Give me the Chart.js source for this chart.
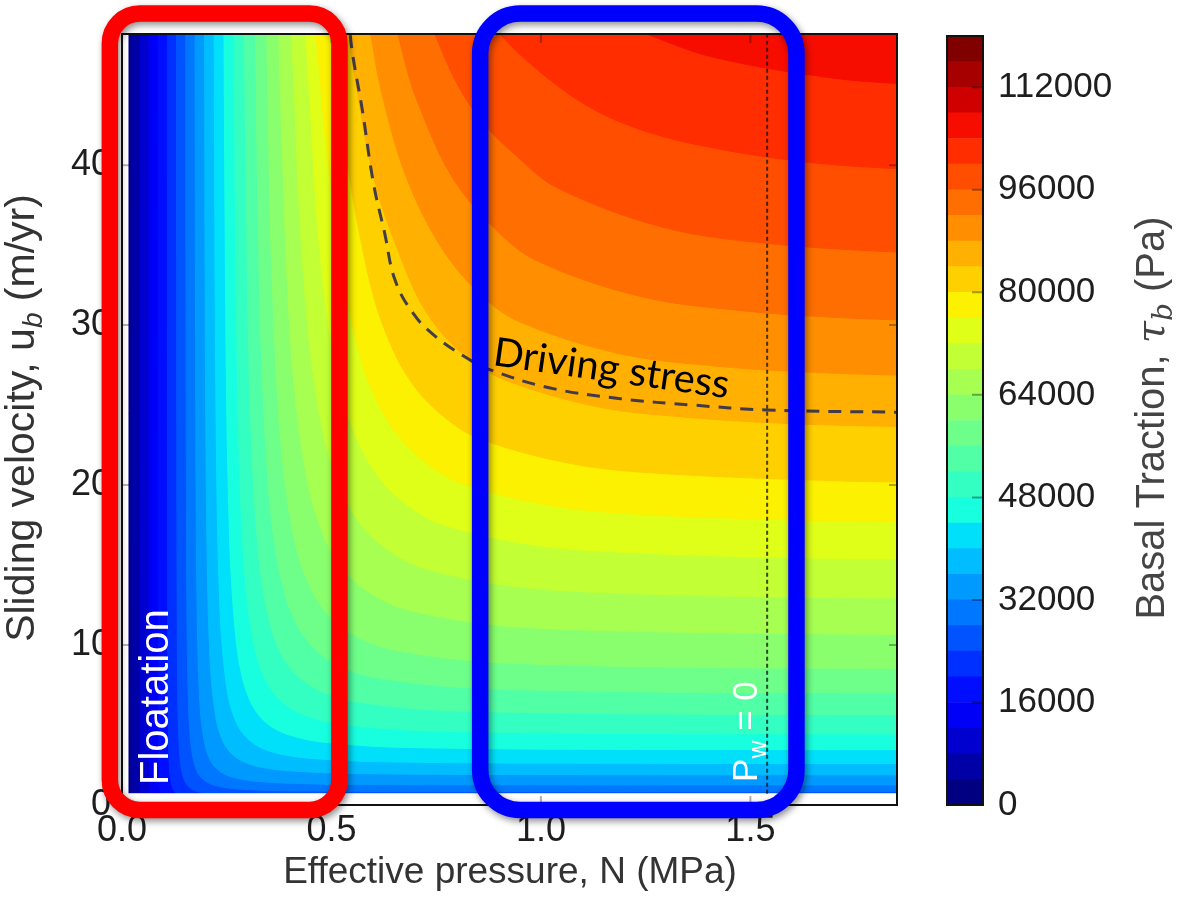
<!DOCTYPE html>
<html>
<head>
<meta charset="utf-8">
<script src="https://cdn.jsdelivr.net/npm/chart.js@4.4.1/dist/chart.umd.min.js"></script>
<style>
  html, body { margin: 0; padding: 0; background: #fff; }
  #wrap { position: relative; width: 1199px; height: 904px; overflow: hidden; }
  #main { position: absolute; left: 0; top: 0; }
  #bar { position: absolute; left: 900px; top: 0; }
</style>
</head>
<body>
<div id="wrap">
  <canvas id="main" width="1199" height="904"></canvas>
  <canvas id="bar" width="299" height="904"></canvas>
</div>
<script>
// ---- axes ----
const N_MAX = 1.85;          // effective pressure, MPa
const U_MAX = 48.2;          // sliding velocity, m/yr
const N_DATA_MIN = 0.0143;   // no data left of this
const U_DATA_MIN = 0.7;      // no data below this
const xTicks = [0, 0.5, 1.0, 1.5];
const yTicks = [0, 10, 20, 30, 40];

// ---- contour lines of basal traction, [N (MPa), u (m/yr)] ----
// each runs from the top edge down and out to the right edge (or below the bottom)
const c04 = [[0.0216,50],[0.0216,49.5],[0.0216,10],[0.0217,0.6],[0.0217,0.5]];
const c08 = [[0.0432,50],[0.0432,49.5],[0.0433,5],[0.0435,1.3],[0.0437,0.66],[0.0439,0.5],[0.0440,0.45]];
const c12 = [[0.0649,50],[0.0649,49.5],[0.0650,7.37],[0.0652,4.44],[0.0655,2.24],[0.0662,1.14],[0.0668,0.78],[0.0681,0.48],[0.0688,0.41]];
const c16 = [[0.0866,50],[0.0866,49.5],[0.0868,17.5],[0.0869,10.5],[0.0874,5.32],[0.0882,2.71],[0.0891,1.84],[0.0908,1.15],[0.0930,0.80],[0.0951,0.63],[0.0995,0.46],[0.1038,0.37]];
const c20 = [[0.1083,50],[0.1083,49.5],[0.1084,34.1],[0.1087,20.6],[0.1092,10.4],[0.1103,5.30],[0.1114,3.60],[0.1135,2.24],[0.1162,1.57],[0.1189,1.23],[0.1243,0.89],[0.1297,0.72],[0.1373,0.60],[0.1460,0.51]];
const c24 = [[0.1302,50],[0.1302,49.5],[0.1304,35.5],[0.1310,17.9],[0.1323,9.15],[0.1336,6.22],[0.1362,3.88],[0.1395,2.71],[0.1427,2.12],[0.1492,1.54],[0.1557,1.25],[0.1648,1.03],[0.1751,0.89],[0.1881,0.79],[0.2076,0.70],[0.2335,0.64],[0.2595,0.60],[0.3243,0.56]];
const c28 = [[0.1522,50],[0.1522,49.5],[0.1529,28.5],[0.1544,14.5],[0.1559,9.87],[0.1589,6.15],[0.1627,4.30],[0.1665,3.37],[0.1741,2.45],[0.1816,1.99],[0.1922,1.64],[0.2043,1.41],[0.2195,1.25],[0.2422,1.11],[0.2724,1.01],[0.3027,0.958],[0.3784,0.895],[0.4541,0.870],[0.6054,0.851],[0.7568,0.845],[1.2,0.840],[1.88,0.838]];
const c32 = [[0.1745,50],[0.1745,49.5],[0.1747,42.5],[0.1764,21.7],[0.1782,14.7],[0.1816,9.19],[0.1859,6.41],[0.1903,5.03],[0.1989,3.65],[0.2076,2.97],[0.2197,2.44],[0.2335,2.11],[0.2508,1.86],[0.2768,1.655],[0.3114,1.51],[0.3459,1.43],[0.4324,1.336],[0.5189,1.299],[0.6919,1.271],[0.8649,1.261],[1.3,1.254],[1.88,1.252]];
const c36 = [[0.1970,50],[0.1970,49.5],[0.1985,32.8],[0.2004,22.3],[0.2043,13.9],[0.2092,9.68],[0.2141,7.59],[0.2238,5.51],[0.2335,4.48],[0.2471,3.69],[0.2627,3.18],[0.2822,2.81],[0.3113,2.497],[0.3503,2.279],[0.3892,2.158],[0.4865,2.017],[0.5838,1.960],[0.7784,1.918],[0.9730,1.903],[1.4,1.893],[1.88,1.890]];
const c40 = [[0.2200,50],[0.2200,49.5],[0.2205,44.9],[0.2227,30.5],[0.2270,19.0],[0.2324,13.25],[0.2378,10.41],[0.2487,7.56],[0.2595,6.15],[0.2746,5.06],[0.2919,4.37],[0.3135,3.86],[0.3460,3.42],[0.3892,3.13],[0.4324,2.96],[0.5406,2.77],[0.6487,2.689],[0.8649,2.631],[1.0811,2.611],[1.5,2.597],[1.88,2.594]];
const c44 = [[0.2432,50],[0.2433,49.5],[0.2450,40.6],[0.2497,25.3],[0.2557,17.7],[0.2616,13.85],[0.2735,10.07],[0.2854,8.18],[0.3021,6.73],[0.3211,5.81],[0.3449,5.13],[0.3805,4.56],[0.4281,4.17],[0.4757,3.94],[0.5946,3.68],[0.7135,3.58],[0.9514,3.50],[1.1892,3.475],[1.55,3.459],[1.88,3.453]];
const c48 = [[0.2672,50],[0.2673,49.5],[0.2698,39.9],[0.2724,32.6],[0.2789,22.7],[0.2854,17.8],[0.2984,12.95],[0.3114,10.52],[0.3295,8.66],[0.3503,7.47],[0.3762,6.59],[0.4151,5.864],[0.4670,5.36],[0.5189,5.066],[0.6487,4.74],[0.7784,4.603],[1.0378,4.503],[1.2973,4.468],[1.6,4.452],[1.88,4.445]];
const c52 = [[0.2919,50],[0.2920,49.5],[0.2951,41.4],[0.3022,28.9],[0.3092,22.7],[0.3232,16.45],[0.3373,13.38],[0.3570,11.01],[0.3795,9.49],[0.4076,8.39],[0.4497,7.46],[0.5059,6.80],[0.5622,6.44],[0.7027,6.02],[0.8432,5.853],[1.1243,5.725],[1.4054,5.681],[1.65,5.664],[1.88,5.655]];
const c56 = [[0.3176,50],[0.3178,49.5],[0.3209,43.5],[0.3254,35.8],[0.3330,28.0],[0.3481,20.35],[0.3632,16.55],[0.3844,13.62],[0.4087,11.75],[0.4389,10.37],[0.4843,9.22],[0.5449,8.41],[0.6054,7.97],[0.7568,7.45],[0.9081,7.24],[1.2108,7.08],[1.5135,7.027],[1.7,7.011],[1.88,7.002]];
const c60 = [[0.3444,50],[0.3446,49.5],[0.3486,43.6],[0.3568,34.1],[0.3730,24.8],[0.3892,20.16],[0.4119,16.59],[0.4378,14.31],[0.4703,12.64],[0.5189,11.24],[0.5838,10.25],[0.6486,9.70],[0.8108,9.07],[0.9730,8.82],[1.2973,8.627],[1.6216,8.560],[1.88,8.539]];
const c64 = [[0.3727,50],[0.3730,49.5],[0.3806,42.6],[0.3978,31.0],[0.4151,25.2],[0.4394,20.72],[0.4670,17.87],[0.5016,15.78],[0.5535,14.03],[0.6227,12.80],[0.6919,12.13],[0.8649,11.33],[1.0379,11.01],[1.3838,10.78],[1.7,10.70],[1.88,10.67]];
const c68 = [[0.4027,50],[0.4032,49.5],[0.4135,43.1],[0.4227,37.5],[0.4411,30.5],[0.4668,25.1],[0.4962,21.64],[0.5330,19.11],[0.5881,16.99],[0.6616,15.50],[0.7351,14.68],[0.9189,13.72],[1.1027,13.33],[1.4703,13.04],[1.75,12.96],[1.88,12.95]];
const c72 = [[0.4353,50],[0.4358,49.5],[0.4476,44.5],[0.4670,36.2],[0.4943,29.8],[0.5254,25.7],[0.5643,22.7],[0.6227,20.17],[0.7005,18.4],[0.7784,17.42],[0.9730,16.29],[1.1676,15.84],[1.5568,15.48],[1.8,15.40],[1.88,15.39]];
const c76 = [[0.4570,50],[0.4580,49.5],[0.4720,45.7],[0.4860,41.6],[0.5217,34.2],[0.5546,29.5],[0.5957,26.0],[0.6573,23.17],[0.7395,21.13],[0.8216,20.01],[1.0270,18.71],[1.2324,18.18],[1.6432,17.79],[1.88,17.70]];
const c80 = [[0.4970,50],[0.4990,49.5],[0.5080,47.3],[0.5340,40.85],[0.5838,33.6],[0.6270,29.7],[0.6919,26.38],[0.7784,24.06],[0.8649,22.79],[1.0811,21.30],[1.2973,20.71],[1.7297,20.25],[1.88,20.20]];
const c84 = [[0.5300,50],[0.5320,49.5],[0.5560,45.5],[0.6010,39.2],[0.6584,34.7],[0.7265,30.8],[0.8173,28.1],[0.9081,26.64],[1.1351,24.90],[1.3622,24.21],[1.6,23.84],[1.88,23.65]];
const c88 = [[0.5800,50],[0.5820,49.5],[0.5920,48.4],[0.6200,44.5],[0.6780,39.3],[0.7611,34.9],[0.8562,31.9],[0.9514,30.18],[1.1892,28.21],[1.4270,27.42],[1.65,27.05],[1.88,26.86]];
const c92 = [[0.6450,50],[0.6480,49.5],[0.6720,46.8],[0.7020,44.2],[0.7870,39.3],[0.8951,35.9],[0.9946,33.97],[1.2433,31.76],[1.4919,30.87],[1.7,30.49],[1.88,30.31]];
const c96 = [[0.7280,50],[0.7330,49.5],[0.7500,48.0],[0.8080,44.7],[0.8700,42.4],[0.9341,40.76],[1.0378,38.6],[1.2973,36.08],[1.5568,35.07],[1.88,34.53]];
const c100 = [[0.8450,50],[0.8550,49.5],[0.8880,48.6],[0.9550,46.8],[1.0750,44.3],[1.1892,42.7],[1.3514,41.4],[1.6216,40.23],[1.88,39.74]];
const c104 = [[1.0796,50],[1.1021,49.5],[1.2368,48.34],[1.4054,46.79],[1.6865,45.48],[1.88,45.06]];
const contourLines = [c04, c08, c12, c16, c20, c24, c28, c32, c36, c40, c44, c48, c52,
  c56, c60, c64, c68, c72, c76, c80, c84, c88, c92, c96, c100, c104];

// driving stress (dashed) and the P_w = 0 line (dotted)
const drivingN = [0.542, 0.548, 0.574, 0.600, 0.627, 0.652, 0.696, 0.748, 0.826, 0.869, 1.017, 1.190, 1.364, 1.537, 1.860];
const drivingU = [49.5, 47.4, 43.4, 38.9, 35.75, 32.8, 30.7, 29.3, 27.9, 27.3, 26.1, 25.4, 25.0, 24.7, 24.55];
const pwZeroN = 1.54;

// colour bar
const cbLevels = [0, 4000, 8000, 12000, 16000, 20000, 24000, 28000, 32000, 36000, 40000,
  44000, 48000, 52000, 56000, 60000, 64000, 68000, 72000, 76000, 80000, 84000, 88000,
  92000, 96000, 100000, 104000, 108000, 112000, 116000, 120000];
const cbTicks = [0, 16000, 32000, 48000, 64000, 80000, 96000, 112000];

// jet colormap (matplotlib segment table), one colour per band, ends included
const jetR = [[0, 0], [0.35, 0], [0.66, 1], [0.89, 1], [1, 0.5]];
const jetG = [[0, 0], [0.125, 0], [0.375, 1], [0.64, 1], [0.91, 0], [1, 0]];
const jetB = [[0, 0.5], [0.11, 1], [0.34, 1], [0.65, 0], [1, 0]];
function seg(tab, x) {
  for (let i = 1; i < tab.length; i++) {
    if (x <= tab[i][0]) {
      const t = (x - tab[i - 1][0]) / (tab[i][0] - tab[i - 1][0]);
      return tab[i - 1][1] + t * (tab[i][1] - tab[i - 1][1]);
    }
  }
  return tab[tab.length - 1][1];
}
function jet(n) {
  const out = [];
  for (let i = 0; i < n; i++) {
    const x = i / (n - 1);
    out.push('rgb(' + Math.round(seg(jetR, x) * 255) + ',' + Math.round(seg(jetG, x) * 255) + ',' + Math.round(seg(jetB, x) * 255) + ')');
  }
  return out;
}
const colors = jet(cbLevels.length - 1);

// ---- datasets for the filled contours ----
const X_OUT = 1.95, Y_OUT = 50;   // closing corner, outside the plot
function pts(arr) { return arr.map(p => ({x: p[0], y: p[1]})); }
function band(poly, col, order, tension) {
  return {
    type: 'line', data: pts(poly), fill: 'shape',
    backgroundColor: col, borderColor: col, borderWidth: 1,
    pointRadius: 0, tension: tension, order: order
  };
}
const datasets = [];
datasets.push(band([[-0.1, -1], [X_OUT, -1], [X_OUT, Y_OUT], [-0.1, Y_OUT]], colors[0], 200, 0));
contourLines.forEach(function (line, k) {
  const last = line[line.length - 1];
  const poly = [[X_OUT, Y_OUT]].concat(line, [[X_OUT, last[1]]]);
  datasets.push(band(poly, colors[k + 1], 199 - k, 0.35));
});
// blank the strip where there is no data
datasets.push(band([[-0.1, -1], [X_OUT, -1], [X_OUT, U_DATA_MIN], [N_DATA_MIN, U_DATA_MIN],
  [N_DATA_MIN, Y_OUT], [-0.1, Y_OUT]], '#ffffff', 20, 0));
datasets.push({
  type: 'line', data: drivingN.map((n, i) => ({x: n, y: drivingU[i]})),
  borderColor: 'rgba(45,45,80,0.9)', borderWidth: 3, borderDash: [13, 9],
  pointRadius: 0, fill: false, tension: 0.4, order: 2
});
datasets.push({
  type: 'line', data: [{x: pwZeroN, y: U_DATA_MIN}, {x: pwZeroN, y: U_MAX}],
  borderColor: 'rgba(25,25,25,0.8)', borderWidth: 2, borderDash: [4, 3],
  pointRadius: 0, fill: false, tension: 0, order: 1
});

// ---- annotations (data units) ----
const redBox = {n0: -0.029, n1: 0.519, u0: -0.31, u1: 49.48, r: 30, color: '#ff0000'};
const blueBox = {n0: 0.855, n1: 1.610, u0: -0.31, u1: 49.48, r: 40, color: '#0000ff'};

function roundRect(ctx, x0, y0, x1, y1, r) {
  ctx.beginPath();
  ctx.moveTo(x0 + r, y0);
  ctx.lineTo(x1 - r, y0);
  ctx.arcTo(x1, y0, x1, y0 + r, r);
  ctx.lineTo(x1, y1 - r);
  ctx.arcTo(x1, y1, x1 - r, y1, r);
  ctx.lineTo(x0 + r, y1);
  ctx.arcTo(x0, y1, x0, y1 - r, r);
  ctx.lineTo(x0, y0 + r);
  ctx.arcTo(x0, y0, x0 + r, y0, r);
  ctx.closePath();
}

function fontStr(p) {
  return (p.style || 'normal') + ' ' + p.size + 'px ' + (p.family || '"Liberation Sans"');
}
function richText(ctx, parts, x, y, angle, align, color) {
  ctx.save();
  ctx.translate(x, y);
  ctx.rotate(angle);
  ctx.fillStyle = color;
  ctx.textBaseline = 'alphabetic';
  ctx.textAlign = 'left';
  let w = 0;
  parts.forEach(p => { ctx.font = fontStr(p); p.w = ctx.measureText(p.t).width; w += p.w; });
  let cx = align === 'center' ? -w / 2 : 0;
  parts.forEach(p => { ctx.font = fontStr(p); ctx.fillText(p.t, cx, p.dy || 0); cx += p.w; });
  ctx.restore();
}

const mainDeco = {
  id: 'mainDeco',
  afterDatasetsDraw(chart) {
    const ctx = chart.ctx, a = chart.chartArea, xs = chart.scales.x, ys = chart.scales.y;
    ctx.save();
    ctx.strokeStyle = 'rgba(0,0,0,0.3)';
    ctx.lineWidth = 2;
    ctx.beginPath();
    xTicks.forEach(v => {
      const px = xs.getPixelForValue(v);
      ctx.moveTo(px, a.bottom); ctx.lineTo(px, a.bottom - 9);
      ctx.moveTo(px, a.top); ctx.lineTo(px, a.top + 9);
    });
    yTicks.forEach(v => {
      const py = ys.getPixelForValue(v);
      ctx.moveTo(a.left, py); ctx.lineTo(a.left + 8, py);
      ctx.moveTo(a.right, py); ctx.lineTo(a.right - 8, py);
    });
    ctx.stroke();
    ctx.strokeStyle = '#111';
    ctx.lineWidth = 2;
    ctx.strokeRect(a.left, a.top, a.right - a.left, a.bottom - a.top);
    ctx.restore();
  },
  afterDraw(chart) {
    const ctx = chart.ctx, xs = chart.scales.x, ys = chart.scales.y;
    [redBox, blueBox].forEach(b => {
      ctx.save();
      ctx.shadowColor = 'rgba(0,0,0,0.45)';
      ctx.shadowBlur = 7;
      ctx.shadowOffsetX = 2;
      ctx.shadowOffsetY = 3;
      ctx.strokeStyle = b.color;
      ctx.lineWidth = 16.5;
      roundRect(ctx, xs.getPixelForValue(b.n0), ys.getPixelForValue(b.u1),
        xs.getPixelForValue(b.n1), ys.getPixelForValue(b.u0), b.r);
      ctx.stroke();
      ctx.restore();
    });
    // labels inside the plot
    richText(ctx, [{t: 'Floatation', size: 40}],
      xs.getPixelForValue(0.1098), ys.getPixelForValue(1.25), -Math.PI / 2, 'left', '#ffffff');
    richText(ctx, [{t: 'P', size: 35}, {t: 'w', size: 25, dy: 9}, {t: ' = 0', size: 35}],
      xs.getPixelForValue(1.516), ys.getPixelForValue(1.44), -Math.PI / 2, 'left', '#ffffff');
    ctx.save();
    ctx.font = '40px Lato';
    const fs = 40 * 238 / ctx.measureText('Driving stress').width;
    ctx.restore();
    richText(ctx, [{t: 'Driving stress', size: fs.toFixed(1), family: 'Lato'}],
      xs.getPixelForValue(0.883), ys.getPixelForValue(27.5), 8 * Math.PI / 180, 'left', '#000000');
    // axis titles
    richText(ctx, [{t: 'Effective pressure, N (MPa)', size: 37}], 510, 883, 0, 'center', '#333333');
    richText(ctx, [{t: 'Sliding velocity, u', size: 41}, {t: 'b', size: 28, style: 'italic', dy: 8},
      {t: ' (m/yr)', size: 41}], 34, 418, -Math.PI / 2, 'center', '#333333');
  }
};

new Chart(document.getElementById('main'), {
  type: 'line',
  data: {datasets: datasets},
  options: {
    responsive: false,
    animation: false,
    events: [],
    layout: {padding: {left: 0, right: 302, top: 34, bottom: 0}},
    plugins: {legend: {display: false}, tooltip: {enabled: false}},
    scales: {
      x: {
        type: 'linear', min: 0, max: N_MAX,
        afterBuildTicks: s => { s.ticks = xTicks.map(v => ({value: v})); },
        afterFit: s => { s.height = 99; },
        grid: {display: false, drawTicks: false}, border: {display: false},
        ticks: {font: {family: 'Liberation Sans', size: 36}, color: '#1e1e1e', padding: 4,
          maxRotation: 0, autoSkip: false, callback: v => Number(v).toFixed(1)}
      },
      y: {
        type: 'linear', min: 0, max: U_MAX,
        afterBuildTicks: s => { s.ticks = yTicks.map(v => ({value: v})); },
        afterFit: s => { s.width = 122; },
        grid: {display: false, drawTicks: false}, border: {display: false},
        ticks: {font: {family: 'Liberation Sans', size: 36}, color: '#1e1e1e', padding: 11,
          autoSkip: false, callback: v => String(v)}
      }
    }
  },
  plugins: [mainDeco]
});

// ---- colour bar ----
const cbDeco = {
  id: 'cbDeco',
  afterDatasetsDraw(chart) {
    const ctx = chart.ctx, a = chart.chartArea, ys = chart.scales.y;
    ctx.save();
    ctx.strokeStyle = 'rgba(0,0,0,0.35)';
    ctx.lineWidth = 2;
    ctx.beginPath();
    cbTicks.forEach(v => {
      const py = ys.getPixelForValue(v);
      ctx.moveTo(a.right, py); ctx.lineTo(a.right - 11, py);
    });
    ctx.stroke();
    ctx.strokeStyle = '#111';
    ctx.lineWidth = 2;
    ctx.strokeRect(a.left, a.top, a.right - a.left, a.bottom - a.top);
    ctx.restore();
  },
  afterDraw(chart) {
    richText(chart.ctx, [{t: 'Basal Traction, ', size: 40}, {t: '\u03c4', size: 40, style: 'italic', family: '"DejaVu Serif"'},
      {t: 'b', size: 28, style: 'italic', family: '"DejaVu Serif"', dy: 8}, {t: ' (Pa)', size: 40}],
      264, 418, -Math.PI / 2, 'center', '#444444');
  }
};

new Chart(document.getElementById('bar'), {
  type: 'bar',
  data: {
    labels: [''],
    datasets: colors.map((c, i) => ({
      data: [[cbLevels[i], cbLevels[i + 1]]], backgroundColor: c, borderWidth: 0,
      barPercentage: 1, categoryPercentage: 1, grouped: false
    }))
  },
  options: {
    responsive: false,
    animation: false,
    events: [],
    layout: {padding: {left: 47, right: 0, top: 34, bottom: 99}},
    plugins: {legend: {display: false}, tooltip: {enabled: false}},
    scales: {
      x: {display: false},
      y: {
        position: 'right', min: 0, max: 120000,
        afterBuildTicks: s => { s.ticks = cbTicks.map(v => ({value: v})); },
        afterFit: s => { s.width = 216; },
        grid: {display: false, drawTicks: false}, border: {display: false},
        ticks: {font: {family: 'Liberation Sans', size: 35}, color: '#1e1e1e', padding: 15,
          autoSkip: false, callback: v => String(v)}
      }
    }
  },
  plugins: [cbDeco]
});
</script>
</body>
</html>
